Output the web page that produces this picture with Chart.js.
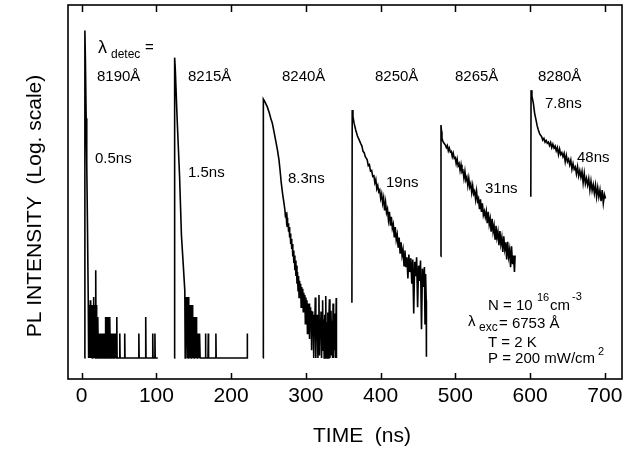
<!DOCTYPE html>
<html>
<head>
<meta charset="utf-8">
<script src="https://cdn.jsdelivr.net/npm/chart.js@4/dist/chart.umd.min.js"></script>
<style>
html, body { margin: 0; padding: 0; background: #fff; }
</style>
</head>
<body>
<canvas id="decay" width="641" height="451"></canvas>
<script>
// time axis ticks (ns)
var xTicks = [0, 100, 200, 300, 400, 500, 600, 700];

// detection wavelengths and fitted lifetimes
var wavelengths = ['8190Å', '8215Å', '8240Å', '8250Å', '8265Å', '8280Å'];
var lifetimes = ['0.5ns', '1.5ns', '8.3ns', '19ns', '31ns', '7.8ns', '48ns'];

// 8190 A trace: time (ns) / counts
var t1 = [3.8, 4.3, 5.0, 6.0, 6.8, 7.8, 8.8,
  9.3, 9.8, 10.3, 10.8, 11.3, 11.8, 12.3, 12.8, 13.3, 13.8, 14.3, 14.8, 15.3, 15.8, 16.3, 16.8, 17.3, 17.8, 18.3, 18.8, 19.3, 19.8, 20.3, 20.8, 21.3, 21.8,
  22.3, 22.8, 23.3, 23.8, 24.3, 24.8, 25.3, 25.8, 26.3, 26.8, 27.3, 27.8, 28.3, 28.8, 29.3, 29.8, 30.3, 30.8, 31.3,
  31.8, 32.3, 32.8, 33.3, 33.8, 34.3, 34.8, 35.3, 35.8, 36.3, 36.8, 37.3, 37.8,
  38.3, 38.8, 39.3, 39.8, 40.3, 40.8, 41.3, 41.8, 42.3, 42.8, 43.3, 43.8, 44.3, 44.8, 45.3, 45.8,
  46.6, 47.0, 47.4, 50.6, 51.0, 51.4, 57.2, 57.6, 58.0, 76.1, 76.5, 76.9, 85.3, 85.7, 86.1, 94.7, 95.1, 95.5, 97.6, 98.0, 98.4, 101.8];
var i1 = [0.36, 310000, 90000, 8000, 1200, 80, 4,
  0.36, 3.3, 0.36, 3.3, 1, 4, 0.36, 3.3, 0.36, 3.3, 0.36, 3.3, 1, 4.6, 0.36, 3.3, 0.36, 3.3, 0.36, 14, 0.36, 3.3, 0.36, 2, 0.36, 2,
  0.36, 1, 0.36, 1, 0.36, 1, 0.36, 1, 0.36, 1, 0.36, 1, 0.36, 1, 0.36, 1, 0.36, 1, 0.36,
  2, 0.36, 2, 0.36, 2, 0.36, 2, 0.36, 2, 0.36, 2, 0.36, 2,
  0.36, 1, 0.36, 1, 0.36, 1, 0.36, 1, 0.36, 1, 0.36, 1, 0.36, 1, 0.36, 1,
  0.36, 2, 0.36, 0.36, 1, 0.36, 0.36, 1, 0.36, 0.36, 1, 0.36, 0.36, 2, 0.36, 0.36, 1, 0.36, 0.36, 1, 0.36, 0.36];

// 8215 A
var t2 = [123.8, 124.4, 125.3, 127.7, 131.0, 133.5, 135.5, 138.0,
  138.5, 139.0, 139.5, 140.0, 140.5, 141.0, 141.5, 142.0, 142.5, 143.0, 143.5, 144.0, 144.5, 145.0, 145.5, 146.0, 146.5, 147.0, 147.5, 148.0,
  148.5, 149.0, 149.5, 150.0, 150.5, 151.0, 151.5, 152.0, 152.5, 153.0, 153.5, 154.0, 154.5, 155.0, 155.5, 156.0, 156.5, 157.0, 157.5, 158.0, 158.5,
  165.3, 165.7, 166.1, 169.0, 169.4, 169.8, 179.2, 179.6, 180.0, 221.3, 221.7];
var i2 = [0.36, 100000, 60000, 8000, 700, 60, 22, 6,
  0.36, 4.6, 0.36, 4.6, 1, 4.6, 0.36, 4.6, 0.36, 4.6, 0.36, 3.3, 0.36, 3.3, 0.36, 3.3, 0.36, 3.3, 0.36, 3.3,
  0.36, 2, 0.36, 2, 0.36, 2, 0.36, 2, 0.36, 2, 0.36, 1, 0.36, 1, 0.36, 1, 0.36, 1, 0.36, 1, 0.36,
  0.36, 1, 0.36, 0.36, 1, 0.36, 0.36, 1, 0.36, 0.36, 1];

// 8240 A
var t3 = [242.8, 243.1, 244.5, 246.0, 248.4, 251.0, 253.0, 255.1, 257.0, 259.5, 262.0, 264.0, 265.5, 267.1, 269.0, 270.7,
  272.0, 272.7, 273.4, 274.1, 274.8, 275.5, 276.2, 276.9, 277.6, 278.3,
  279.0, 279.7, 280.4, 281.1, 281.8, 282.5, 283.2, 283.9, 284.6, 285.3,
  286.0, 286.7, 287.4, 288.1, 288.8, 289.5, 290.2, 290.9, 291.6, 292.3,
  293.0, 293.7, 294.4, 295.1, 295.8, 296.5, 297.2, 297.9, 298.6, 299.3,
  300.0, 300.7, 301.4, 302.1, 302.8, 303.5, 304.2, 304.9, 305.6, 306.3,
  307.0, 307.7, 308.4, 309.1, 309.8, 310.5, 311.2, 311.9, 312.6, 313.3,
  314.0, 314.7, 315.4, 316.1, 316.8, 317.5, 318.2, 318.9, 319.6, 320.3,
  321.0, 321.7, 322.4, 323.1, 323.8, 324.5, 325.2, 325.9, 326.6, 327.3,
  328.0, 328.7, 329.4, 330.1, 330.8, 331.5, 332.2, 332.9, 333.6, 334.3,
  335.0, 335.7, 336.4, 337.1, 337.8, 338.5, 339.2, 339.9, 340.6, 340.9];
var i3 = [0.36, 17700, 16500, 15000, 12800, 10000, 8000, 6500, 4800, 3200, 2100, 1400, 900, 530, 330, 230,
  170, 130, 160, 110, 125, 85, 100, 70, 85, 55,
  65, 42, 52, 34, 42, 25, 32, 19, 26, 14,
  21, 11, 17, 8, 13, 6, 11, 4.5, 9, 5,
  8, 3, 7, 4, 6.5, 2.5, 5.5, 3, 5, 1.5,
  4.5, 2.5, 4, 1, 3.5, 2, 3.5, 0.8, 3, 1.5,
  2.6, 0.5, 2.5, 1.2, 2.2, 0.36, 2, 1.2, 4.5, 0.36,
  1.8, 1.2, 2.2, 0.36, 1.6, 5, 0.4, 1.7, 1.1, 2.5,
  0.36, 1.5, 4, 0.5, 1.8, 0.36, 2.2, 1, 4.8, 0.36,
  1.6, 0.6, 2.4, 0.36, 1.8, 4.2, 0.36, 1.4, 2.6, 0.4,
  1.7, 0.36, 3.5, 0.36, 1.9, 0.5, 2.3, 0.36, 4.4, 0.36];

// 8250 A
var t4 = [361.6, 362.0, 363.0, 364.5, 366.7, 369.0, 371.0, 373.3,
  375.0, 376.5, 378.0, 379.5, 381.0, 382.1, 383.5, 385.0, 386.5, 388.0, 389.5, 391.0,
  392.3, 393.6, 394.9, 396.2, 397.5, 398.8, 400.1, 401.4, 402.7, 404.0,
  405.3, 406.6, 407.9, 409.2, 410.5, 411.8, 413.1, 414.4, 415.7, 417.0,
  418.3, 419.6, 420.9, 422.2, 423.5, 424.8, 426.1, 427.4, 428.7, 430.0,
  431.3, 432.6, 433.9, 435.2, 436.5, 437.8, 439.1, 440.4, 441.7, 443.0,
  444.3, 445.6, 446.9, 448.2, 449.5, 450.8, 452.1, 453.4, 454.7, 456.0,
  457.3, 458.6, 459.4, 460.2, 461.0, 461.3];
var i4 = [3.6, 11200, 8500, 6500, 4900, 3800, 3300, 2800,
  2500, 2000, 1900, 1600, 1500, 1390, 1100, 1150, 880, 900, 700, 720,
  540, 620, 420, 480, 370, 400, 280, 340, 230, 290,
  170, 240, 155, 180, 115, 160, 90, 130, 80, 95,
  55, 85, 50, 62, 36, 55, 28, 45, 26, 33,
  17, 32, 16, 24, 10, 27, 13, 23, 8, 22,
  2.3, 20, 11, 24, 3, 17, 9, 21, 1.2, 15,
  7, 16, 1.5, 12, 4, 0.38];

// 8265 A
var t5 = [480.5, 480.8, 481.5, 482.1, 483.5, 485.0, 486.7,
  488.0, 489.3, 490.6, 491.9, 493.3, 494.6, 495.9, 497.2, 498.5, 499.8,
  501.1, 502.4, 503.7, 505.0, 506.3, 507.6, 508.9, 510.2, 511.5, 512.8,
  514.1, 515.4, 516.7, 518.0, 519.3, 520.6, 521.9, 523.2, 524.5, 525.8,
  527.1, 528.4, 529.7, 531.0, 532.3, 533.6, 534.9, 536.2, 537.5, 538.8,
  540.1, 541.4, 542.7, 544.0, 545.3, 546.6, 547.9, 549.2, 550.5, 551.8,
  553.1, 554.4, 555.7, 557.0, 558.3, 559.6, 560.9, 562.2, 563.5, 564.8,
  566.1, 567.4, 568.7, 570.0, 571.3, 572.6, 573.9, 575.2, 576.5, 577.8,
  579.1, 580.0];
var i5 = [25, 6000, 4600, 3450, 3000, 2800, 2600,
  2350, 2550, 2050, 2300, 1950, 2000, 1600, 1850, 1500, 1550,
  1200, 1450, 1100, 1200, 900, 1150, 850, 900, 650, 870,
  600, 680, 480, 650, 450, 520, 360, 480, 340, 380,
  270, 380, 250, 280, 180, 270, 160, 230, 140, 165,
  130, 165, 100, 160, 95, 120, 70, 120, 70, 90,
  52, 90, 55, 70, 40, 72, 42, 55, 30, 58,
  34, 45, 22, 46, 25, 33, 16, 38, 18, 26,
  13, 26];

// 8280 A
var t6 = [601.0, 601.3, 602.5, 604.4, 606.0, 608.0, 609.5, 611.1, 613.0, 615.5,
  617.0, 618.5, 620.0, 621.5, 623.0, 624.5, 626.0, 627.5, 629.0, 630.5,
  632.0, 633.5, 635.0, 636.5, 638.0, 639.5, 641.0, 642.5, 644.0, 645.5,
  647.0, 648.5, 650.0, 651.5, 653.0, 654.5, 656.0, 657.5, 659.0, 660.5,
  662.0, 663.5, 665.0, 666.5, 668.0, 669.5, 671.0, 672.5, 674.0, 675.5,
  677.0, 678.5, 680.0, 681.5, 683.0, 684.5, 686.0, 687.5, 689.0, 690.5,
  692.0, 693.5, 695.0, 696.5, 698.0, 699.5, 701.0];
var i6 = [300, 25700, 20000, 14900, 10000, 7400, 5800, 4900, 4100, 3700,
  3200, 3450, 2950, 3150, 2800, 2950, 2550, 2900, 2350, 2700,
  2300, 2500, 2050, 2350, 1750, 2200, 1750, 1900, 1600, 1850,
  1300, 1700, 1300, 1450, 1150, 1400, 950, 1200, 950, 1050,
  780, 1050, 720, 900, 680, 870, 540, 800, 520, 650,
  490, 640, 400, 580, 390, 500, 350, 490, 300, 440,
  300, 400, 250, 400, 230, 330, 280];

var FONT = '"Liberation Sans", Arial, Helvetica, sans-serif';

function pts(ts, vs) {
  return ts.map(function (t, i) { return {x: t, y: vs[i]}; });
}

var traces = [[t1, i1], [t2, i2], [t3, i3], [t4, i4], [t5, i5], [t6, i6]];

function put(c, str, x, y, size, align) {
  c.font = size + 'px ' + FONT;
  c.textAlign = align || 'left';
  c.fillText(str, x, y);
}

// box, inward ticks, axis titles and the in-plot notes
var frame = {
  id: 'frame',
  afterDraw: function (chart) {
    var c = chart.ctx, a = chart.chartArea, xs = chart.scales.x;
    c.save();
    c.strokeStyle = '#000';
    c.lineWidth = 1.6;
    c.strokeRect(a.left, a.top, a.right - a.left, a.bottom - a.top);
    c.lineWidth = 1.5;
    xTicks.forEach(function (v) {
      var px = Math.round(xs.getPixelForValue(v)) + 0.5;
      c.beginPath();
      c.moveTo(px, a.bottom); c.lineTo(px, a.bottom - 6);
      c.moveTo(px, a.top); c.lineTo(px, a.top + 7);
      c.stroke();
    });

    c.fillStyle = '#000';

    // axis titles
    c.textBaseline = 'middle';
    put(c, 'TIME  (ns)', 362, 436, 21, 'center');
    c.save();
    c.translate(35, 206);
    c.rotate(-Math.PI / 2);
    put(c, 'PL INTENSITY  (Log. scale)', 0, 0, 21, 'center');
    c.restore();
    c.textBaseline = 'alphabetic';

    // lambda_detec =
    put(c, 'λ', 98, 53, 18);
    put(c, 'detec', 111, 58, 12);
    put(c, '=', 145, 52, 15);

    var wx = [97, 188, 282, 375, 455, 538];
    wavelengths.forEach(function (w, k) { put(c, w, wx[k], 81, 15); });

    var lx = [[95, 163], [188, 177], [288, 183], [386, 187], [485, 193], [545, 108], [577, 162]];
    lifetimes.forEach(function (s, k) { put(c, s, lx[k][0], lx[k][1], 15); });

    // experimental conditions
    put(c, 'N = 10', 488, 310, 15);
    put(c, '16', 537, 301, 11);
    put(c, 'cm', 550, 310, 15);
    put(c, '-3', 572, 300, 11);
    put(c, 'λ', 468, 326, 15);
    put(c, 'exc', 479, 331, 12);
    put(c, '= 6753 Å', 499, 328, 15);
    put(c, 'T = 2 K', 488, 347, 15);
    put(c, 'P = 200 mW/cm', 488, 363, 15);
    put(c, '2', 598, 355, 11);
    c.restore();
  }
};

new Chart(document.getElementById('decay'), {
  type: 'scatter',
  data: {
    datasets: traces.map(function (tr) {
      return {
        data: pts(tr[0], tr[1]),
        showLine: true,
        borderColor: '#000',
        borderWidth: 1.6,
        pointRadius: 0,
        tension: 0
      };
    })
  },
  options: {
    responsive: false,
    animation: false,
    devicePixelRatio: 1,
    layout: {padding: {top: 5, right: 19, left: 0, bottom: 0}},
    plugins: {legend: {display: false}, tooltip: {enabled: false}},
    scales: {
      x: {
        type: 'linear',
        min: -18.3,
        max: 723,
        afterFit: function (s) { s.height = 72; },
        afterBuildTicks: function (s) { s.ticks = xTicks.map(function (v) { return {value: v}; }); },
        ticks: {font: {family: FONT, size: 21}, color: '#000', padding: 5},
        grid: {display: false, drawTicks: false},
        border: {display: false}
      },
      y: {
        type: 'logarithmic',
        min: 0.15,
        max: 900000,
        afterFit: function (s) { s.width = 68; },
        ticks: {display: false},
        grid: {display: false, drawTicks: false},
        border: {display: false}
      }
    }
  },
  plugins: [frame]
});
</script>
</body>
</html>
